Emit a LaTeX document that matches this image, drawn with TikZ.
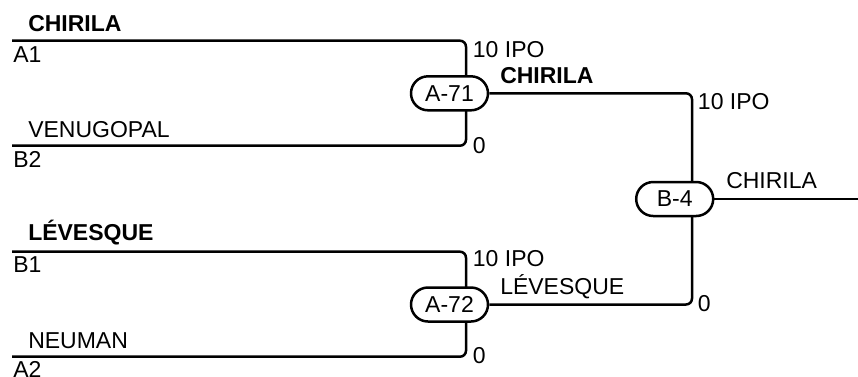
\documentclass[tikz,border=0pt]{standalone}
\usepackage{fontspec}
\setmainfont{Liberation Sans}
\begin{document}
\begin{tikzpicture}[x=1pt, y=-1pt, line width=2.5pt,
	team/.style = {font=\fontsize{23}{27}\selectfont, inner sep=0, anchor=base west},
	winner/.style = {team, font=\fontsize{23}{27}\selectfont\bfseries},
	match/.style = {draw, fill=white, rounded corners=17pt, minimum width=77pt, minimum height=34pt, inner sep=0, font=\fontsize{23}{27}\selectfont},
	bracket/.style = {rounded corners=6pt}]
			\useasboundingbox (0,0) rectangle (858,376);
			\coordinate (a1) at (12,40.7);
			\coordinate (b2) at (12,145.7);
			\coordinate (b1) at (12,251.7);
			\coordinate (a2) at (12,356.7);
			\coordinate (m71) at (466,93.3);
			\coordinate (m72) at (466,305);
			\coordinate (m4) at (692,199);
			\coordinate (out) at (858,199);
			\draw[bracket] (a1) -| (m71);
			\draw[bracket] (b2) -| (m71);
			\draw[bracket] (b1) -| (m72);
			\draw[bracket] (a2) -| (m72);
			\node[match] (A71) at (449.5,93.3) {A-71};
			\node[match] (A72) at (449.5,304.5) {A-72};
			\draw[bracket] (A71.east) -| (m4);
			\draw[bracket] (A72.east) -| (m4);
			\node[match] (B4) at (674.7,199) {B-4};
			\draw (B4.east) -- (out);
			% teams
			\node[winner] (t1) at (27,31.7) {CHIRILA};
			\node[team] (s1) at (12,62.5) {A1};
			\node[team] (t2) at (27,137) {VENUGOPAL};
			\node[team] (s2) at (12,167.5) {B2};
			\node[winner] (t3) at (27,240.7) {LÉVESQUE};
			\node[team] (s3) at (12,272.5) {B1};
			\node[team] (t4) at (27,348.3) {NEUMAN};
			\node[team] (s4) at (12,377.5) {A2};
			% scores
			\node[team] (p1) at (471.7,57.3) {10 IPO};
			\node[team] (p2) at (471.7,153) {0};
			\node[team] (p3) at (471.7,266.7) {10 IPO};
			\node[team] (p4) at (471.7,363.5) {0};
			\node[team] (p5) at (696.7,109.3) {10 IPO};
			\node[team] (p6) at (696.7,311) {0};
			% winners
			\node[winner] (w71) at (499,83.3) {CHIRILA};
			\node[team] (w72) at (499,294) {LÉVESQUE};
			\node[team] (w4) at (725,188.3) {CHIRILA};
		\end{tikzpicture}
\end{document}
